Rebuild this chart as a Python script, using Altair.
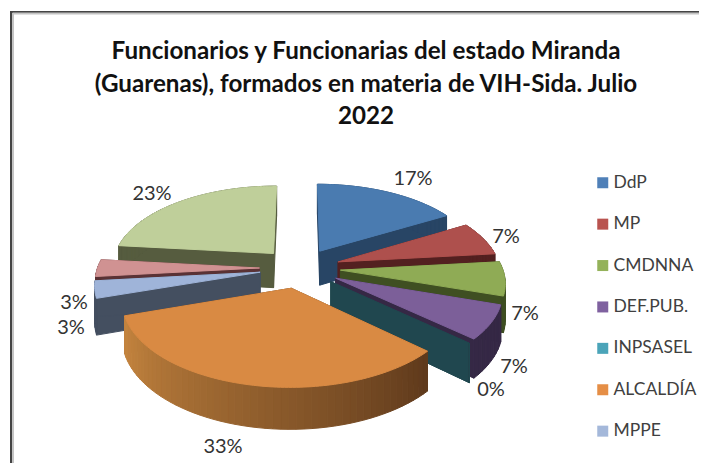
import math
import altair as alt
import pandas as pd

categories = ["DdP", "MP", "CMDNNA", "DEF.PUB.", "INPSASEL", "ALCALDÍA", "MPPE", "OTRO A", "OTRO B"]
counts = [5, 2, 2, 2, 0, 10, 1, 1, 7]
top_colors = ["#4a7bb0", "#ae504d", "#8fab55", "#7c5f99", "#4ba4b9", "#d98a43", "#9fb4d9", "#d09292", "#bfcf9a"]
legend_colors = ["#4f80b8", "#b9534f", "#94b25a", "#7f619f", "#4ba4b9", "#e58e46", "#a4b8da", "#d09292", "#bfcf9a"]
wall_colors = ["#284565", "#532020", "#3f4f22", "#352845", "#20474f", "#6a411f", "#444f60", "#5a3235", "#565c3f"]
legend_names = categories[:7]

title_lines = ["Funcionarios  y Funcionarias  del estado Miranda",
               "(Guarenas), formados en materia de VIH-Sida. Julio",
               "2022"]
title_y = [52, 85, 117]
label_x = [413, 506, 525, 514, 491, 223, 74, 71, 152]
label_y = [179, 237, 314, 367, 390, 447, 303, 328, 194]

# projection of the tilted, exploded pie
CX, CY, AX, AY, PERSP, RADIUS, DEPTH = 300, 268, 40.5, 20, 30, 4.0, 35


def project(u, v, drop=0.0):
    s = 1 / (1 - v / PERSP)
    return CX + AX * u * s, CY + AY * v * s + drop * s


total = sum(counts)
slices = []
cum = 0
for i, c in enumerate(counts):
    a0 = cum / total * 2 * math.pi
    cum += c
    a1 = cum / total * 2 * math.pi
    m = (a0 + a1) / 2
    slices.append((math.sin(m), -math.cos(m), a0, a1, i))

rows = []
gid = 0


def add_poly(points, color):
    global gid
    points = points + [points[0]]
    for k, (x, y) in enumerate(points):
        rows.append({"x": x, "y": y, "g": gid, "k": k, "c": color})
    gid += 1


def rim(ox, oy, a):
    return ox + RADIUS * math.sin(a), oy - RADIUS * math.cos(a)


def mix(hex_a, hex_b, t):
    pa = [int(hex_a[j:j + 2], 16) for j in (1, 3, 5)]
    pb = [int(hex_b[j:j + 2], 16) for j in (1, 3, 5)]
    return "#%02x%02x%02x" % tuple(round(p + (q - p) * t) for p, q in zip(pa, pb))


for ox, oy, a0, a1, i in sorted(slices, key=lambda t: t[1]):
    wall = wall_colors[i]
    # radial walls
    for a in (a0, a1):
        ru, rv = rim(ox, oy, a)
        add_poly([project(ox, oy), project(ru, rv), project(ru, rv, DEPTH), project(ox, oy, DEPTH)], wall)
    # outer rim in small strips
    n = max(2, int((a1 - a0) / 0.04))
    for j in range(n):
        b0 = a0 + (a1 - a0) * j / n
        b1 = a0 + (a1 - a0) * (j + 1) / n
        u0, v0 = rim(ox, oy, b0)
        u1, v1 = rim(ox, oy, b1)
        col = wall
        if categories[i] == "ALCALDÍA":
            col = mix("#5f3a1c", "#c5853f", j / (n - 1))
        add_poly([project(u0, v0), project(u1, v1), project(u1, v1, DEPTH), project(u0, v0, DEPTH)], col)
    # top face
    if a1 > a0:
        pts = [project(ox, oy)]
        n = max(2, int((a1 - a0) / 0.02))
        for j in range(n + 1):
            pts.append(project(*rim(ox, oy, a0 + (a1 - a0) * j / n)))
        add_poly(pts, top_colors[i])

df = pd.DataFrame(rows)

xs = alt.Scale(domain=[8, 699], range=[0, 691])
ys = alt.Scale(domain=[8, 463], range=[0, 455])
X = alt.X("x:Q", scale=xs, axis=None)
Y = alt.Y("y:Q", scale=ys, axis=None)

frame_df = pd.DataFrame({
    "x": [10, 12.5, 11, 13], "x2": [699, 699, 11, 13],
    "y": [12, 13.5, 11, 13], "y2": [12, 13.5, 463, 463],
    "c": ["#444444", "#c4c4c4", "#444444", "#c4c4c4"],
})
frame = alt.Chart(frame_df).mark_rule(strokeWidth=2).encode(
    x=X, x2="x2:Q", y=Y, y2="y2:Q",
    color=alt.Color("c:N", scale=None),
)

legend_df = pd.DataFrame({"cat": categories, "x": [CX] * len(categories), "y": [CY] * len(categories)})
legend_layer = alt.Chart(legend_df).mark_square(size=0, opacity=1).encode(
    x=X, y=Y,
    color=alt.Color("cat:N",
                    scale=alt.Scale(domain=categories, range=legend_colors),
                    legend=alt.Legend(values=legend_names, title=None, orient="none",
                                      legendX=586, legendY=166, symbolType="square",
                                      symbolSize=121, symbolStrokeWidth=0, symbolOpacity=1,
                                      labelFont="Lato", labelFontSize=17.5, labelColor="#404040",
                                      labelOffset=2, rowPadding=22.4, labelLimit=140,
                                      labelBaseline="middle", columns=1)),
)

faces = alt.Chart(df).mark_line(filled=True, strokeWidth=1, strokeJoin="round", interpolate="linear").encode(
    x=X, y=Y,
    detail="g:N",
    order="k:Q",
    fill=alt.Fill("c:N", scale=None, legend=None),
    stroke=alt.Stroke("c:N", scale=None, legend=None),
)

title_df = pd.DataFrame({"t": title_lines, "x": [366] * 3, "y": title_y})
title = alt.Chart(title_df).mark_text(font="Lato", fontWeight="bold", fontSize=24.2, color="#111111",
                                      align="center", baseline="middle").encode(x=X, y=Y, text="t:N")

pct = [f"{round(c / total * 100)}%" for c in counts]
label_df = pd.DataFrame({"t": pct, "x": label_x, "y": label_y})
labels = alt.Chart(label_df).mark_text(font="Lato", fontSize=20, color="#333333",
                                       align="center", baseline="middle").encode(x=X, y=Y, text="t:N")

chart = alt.layer(legend_layer, frame, faces, title, labels).properties(
    width=691, height=455, padding=0, autosize=alt.AutoSizeParams(type="none"),
    background="white",
).configure_view(stroke=None)

chart.save("out.html", embed_options={"renderer": "svg", "actions": False})
